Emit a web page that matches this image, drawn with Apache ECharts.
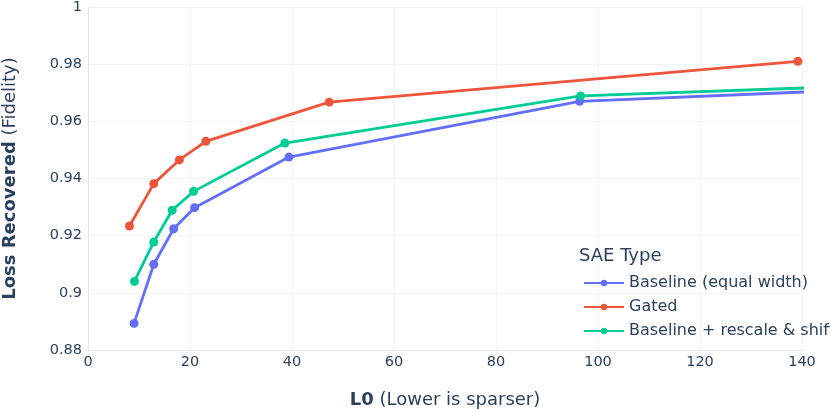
<!DOCTYPE html>
<html style="height: 100%">
<head>
<meta charset="utf-8">
<style>
    html, body { height: 100%; margin: 0; overflow: hidden; background: #fff; }
    #container { width: 830px; height: 411px; }
</style>
<title>Loss Recovered vs L0</title>
</head>
<body>
<div id="container"></div>
<script src="https://cdn.jsdelivr.net/npm/echarts@6/dist/echarts.min.js"></script>
<script type="text/javascript">
// data
var baselineL0   = [9.03, 12.9, 16.8, 20.9, 39.4, 96.4, 141];
var baselineLoss = [0.8893, 0.9100, 0.9224, 0.9298, 0.9475, 0.9670, 0.9703];
var gatedL0      = [8.13, 12.9, 17.9, 23.1, 47.3, 139.2];
var gatedLoss    = [0.9234, 0.9382, 0.9465, 0.9530, 0.9667, 0.9810];
var rescaleL0    = [9.11, 12.9, 16.5, 20.7, 38.6, 96.6, 141];
var rescaleLoss  = [0.9040, 0.9178, 0.9289, 0.9355, 0.9524, 0.9689, 0.9717];
var seriesNames  = ['Baseline (equal width)', 'Gated', 'Baseline + rescale & shift'];
var seriesColors = ['#636efa', '#EF553B', '#00cc96'];

function pairs(xs, ys) {
    return xs.map(function (x, i) { return [x, ys[i]]; });
}

var font = '"DejaVu Sans", Verdana, sans-serif';
var ink = '#2a3f5f';

var myChart = echarts.init(document.getElementById('container'));

function lineSeries(idx, data) {
    return {
        name: seriesNames[idx],
        type: 'line',
        data: data,
        clip: true,
        symbol: 'circle',
        symbolSize: 9,
        lineStyle: { width: 2.8, color: seriesColors[idx] },
        itemStyle: { color: seriesColors[idx] },
        emphasis: { disabled: true }
    };
}

var option = {
    animation: false,
    textStyle: { fontFamily: font },
    title: {
        text: 'SAE Type',
        left: 574,
        top: 242,
        textStyle: { fontFamily: font, fontSize: 18, fontWeight: 'normal', color: ink }
    },
    legend: {
        orient: 'vertical',
        left: 578,
        top: 270,
        itemWidth: 40,
        itemHeight: 8,
        itemGap: 8,
        textStyle: { fontFamily: font, fontSize: 16, lineHeight: 16, color: ink },
        data: seriesNames
    },
    grid: { left: 88, right: 28, top: 7, bottom: 61, outerBoundsMode: 'none', containLabel: false },
    xAxis: {
        type: 'value',
        min: 0,
        max: 140,
        interval: 20,
        name: '{b|L0} (Lower is sparser)',
        nameLocation: 'middle',
        nameGap: 41,
        nameTextStyle: {
            fontFamily: font, fontSize: 18, color: ink,
            rich: { b: { fontFamily: font, fontSize: 18, fontWeight: 'bold', color: ink } }
        },
        axisLine: { show: true, lineStyle: { color: '#e3e6ec', width: 1 } },
        axisTick: { show: false },
        axisLabel: { fontFamily: font, fontSize: 14.5, color: ink, margin: 5 },
        splitLine: { show: true, lineStyle: { color: '#f1f3f8' } }
    },
    yAxis: {
        type: 'value',
        min: 0.88,
        max: 1,
        interval: 0.02,
        name: '{b|Loss Recovered} (Fidelity)',
        nameLocation: 'middle',
        nameGap: 69,
        nameTextStyle: {
            fontFamily: font, fontSize: 18, color: ink,
            rich: { b: { fontFamily: font, fontSize: 18, fontWeight: 'bold', color: ink } }
        },
        axisLine: { show: true, lineStyle: { color: '#e3e6ec', width: 1 } },
        axisTick: { show: false },
        axisLabel: {
            fontFamily: font, fontSize: 14.5, color: ink, margin: 6,
            formatter: function (v) { return String(parseFloat(v.toFixed(2))); }
        },
        splitLine: { show: true, lineStyle: { color: '#f1f3f8' } }
    },
    series: [
        lineSeries(0, pairs(baselineL0, baselineLoss)),
        lineSeries(1, pairs(gatedL0, gatedLoss)),
        lineSeries(2, pairs(rescaleL0, rescaleLoss))
    ]
};

myChart.setOption(option, true);
</script>
</body>
</html>
